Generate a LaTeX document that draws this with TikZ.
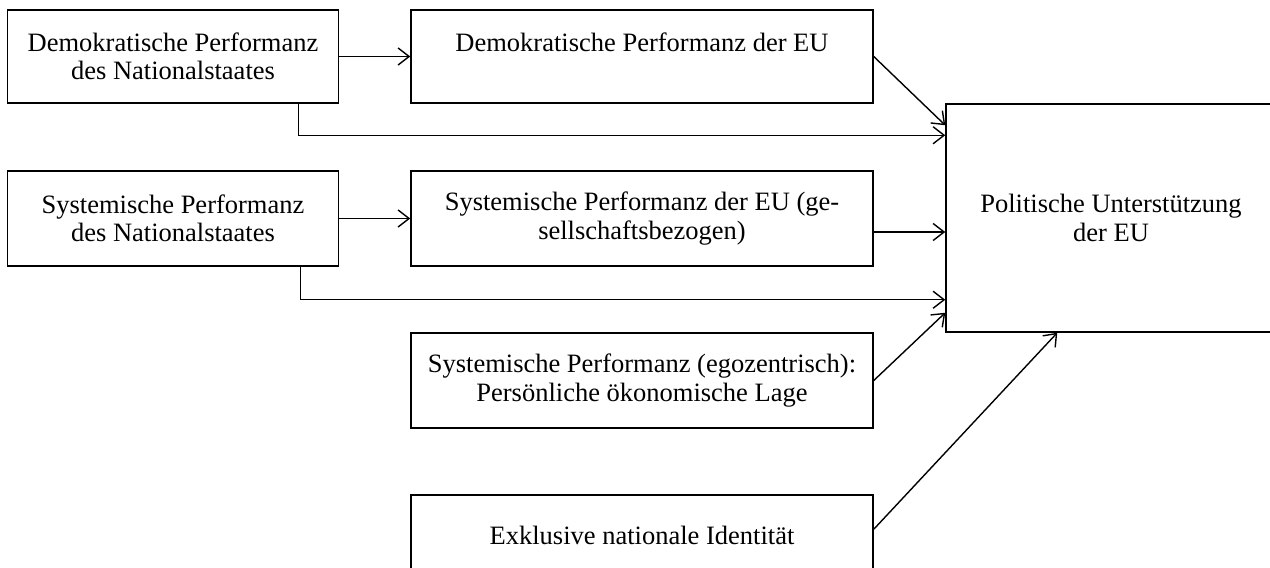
\documentclass[tikz,border=0pt]{standalone}
\usepackage{fontspec}
\setmainfont{Liberation Serif}
\usetikzlibrary{arrows.meta,calc}
\tikzset{
  box/.style={draw, line width=1.5pt, inner sep=0pt, align=center,
    font=\fontsize{26.5pt}{28.5pt}\selectfont},
  arr/.style={draw, line width=1.4pt, -{Straight Barb[length=11pt,width=17pt,line width=1.4pt]}},
  plain/.style={draw, line width=1.4pt}
}
\begin{document}
\begin{tikzpicture}[x=1pt,y=-1pt]
\useasboundingbox (0,0) rectangle (1270,568);
\clip (0,0) rectangle (1270,568);
% boxes (centre, width, height)
\node[box, minimum width=331pt, minimum height=93pt] (A) at (173,56.5) {Demokratische Performanz\\des Nationalstaates};
\node[box, minimum width=462pt, minimum height=93pt] (B) at (642,56.5) {Demokratische Performanz der EU\\\mbox{}};
\node[box, minimum width=331pt, minimum height=95pt] (C) at (173,218.5) {Systemische Performanz\\des Nationalstaates};
\node[box, minimum width=462pt, minimum height=95pt] (D) at (642,218.5) {Systemische Performanz der EU (ge-\\sellschaftsbezogen)};
\node[box, minimum width=330pt, minimum height=228pt] (E) at (1111,218) {Politische Unterstützung\\der EU};
\node[box, minimum width=462pt, minimum height=95pt] (F) at (642,380.5) {Systemische Performanz (egozentrisch):\\Persönliche ökonomische Lage};
\node[box, minimum width=462pt, minimum height=81pt] (G) at (642,535.5) {Exklusive nationale Identität};
% connectors
\draw[arr] (A.east) -- (B.west);
\draw[arr] (C.east) -- (D.west);
\draw[arr] ([xshift=-41pt]A.south east) |- ([yshift=-32pt]E.north west);
\draw[arr] (B.east) -- ([yshift=-22pt]E.north west);
\draw[arr] ([xshift=-39pt]C.south east) |- ([yshift=33pt]E.south west);
\draw[arr] ([yshift=-13.5pt]D.east) coordinate (d1) -- (d1 -| E.west);
\draw[arr] (F.east) -- ([yshift=20pt]E.south west);
\draw[arr] ([yshift=-35pt]G.north east) -- ([xshift=112pt]E.south west);
\end{tikzpicture}
\end{document}
